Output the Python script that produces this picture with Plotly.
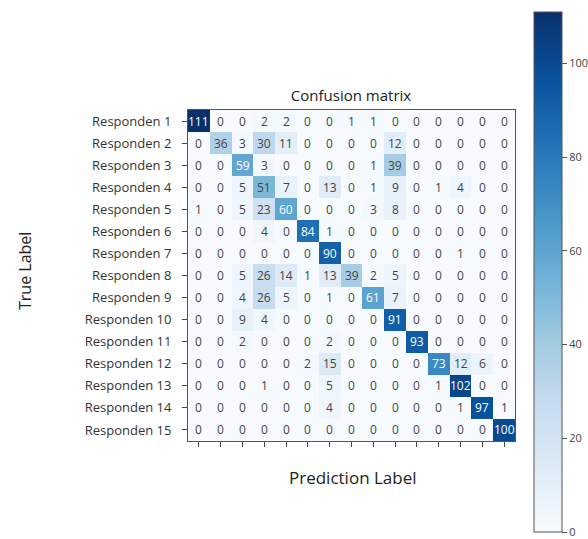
import plotly.graph_objects as go

labels = [f"Responden {i}" for i in range(1, 16)]
matrix = [
    [111, 0, 0, 2, 2, 0, 0, 1, 1, 0, 0, 0, 0, 0, 0],
    [0, 36, 3, 30, 11, 0, 0, 0, 0, 12, 0, 0, 0, 0, 0],
    [0, 0, 59, 3, 0, 0, 0, 0, 1, 39, 0, 0, 0, 0, 0],
    [0, 0, 5, 51, 7, 0, 13, 0, 1, 9, 0, 1, 4, 0, 0],
    [1, 0, 5, 23, 60, 0, 0, 0, 3, 8, 0, 0, 0, 0, 0],
    [0, 0, 0, 4, 0, 84, 1, 0, 0, 0, 0, 0, 0, 0, 0],
    [0, 0, 0, 0, 0, 0, 90, 0, 0, 0, 0, 0, 1, 0, 0],
    [0, 0, 5, 26, 14, 1, 13, 39, 2, 5, 0, 0, 0, 0, 0],
    [0, 0, 4, 26, 5, 0, 1, 0, 61, 7, 0, 0, 0, 0, 0],
    [0, 0, 9, 4, 0, 0, 0, 0, 0, 91, 0, 0, 0, 0, 0],
    [0, 0, 2, 0, 0, 0, 2, 0, 0, 0, 93, 0, 0, 0, 0],
    [0, 0, 0, 0, 0, 2, 15, 0, 0, 0, 0, 73, 12, 6, 0],
    [0, 0, 0, 1, 0, 0, 5, 0, 0, 0, 0, 1, 102, 0, 0],
    [0, 0, 0, 0, 0, 0, 4, 0, 0, 0, 0, 0, 1, 97, 1],
    [0, 0, 0, 0, 0, 0, 0, 0, 0, 0, 0, 0, 0, 0, 100],
]
cbar_ticks = [0, 20, 40, 60, 80, 100]

n = len(labels)
xs = list(range(n))
zmax = max(max(r) for r in matrix)
thresh = zmax / 2

W, H = 588, 539
L, R, T, B = 188, 515, 110, 441
pw, ph = R - L, B - T

def px_x(x):
    return (x - L) / pw

def px_y(y):
    return 1 - (y - T) / ph

cb_top, cb_bot = 12, 532

fig = go.Figure(go.Heatmap(
    z=matrix, x=xs, y=list(range(n)),
    colorscale="Blues", zmin=0, zmax=zmax,
    colorbar=dict(
        x=px_x(534), xanchor="left", y=px_y((cb_top + cb_bot) / 2), yanchor="middle",
        len=(cb_bot - cb_top) / ph, lenmode="fraction", thickness=28,
        xpad=0, ypad=0, outlinewidth=1, outlinecolor="#555",
        tickvals=cbar_ticks, ticks="outside", ticklen=5, tickcolor="#555",
        tickfont=dict(size=11, color="#444", family="Open Sans"),
    ),
    hoverinfo="skip",
))

annotations = []
for i, row in enumerate(matrix):
    for j, v in enumerate(row):
        annotations.append(dict(
            x=j, y=i, text=str(v), showarrow=False,
            font=dict(size=12, family="Open Sans",
                      color="white" if v > thresh else "#444"),
        ))
annotations.append(dict(text="Prediction Label", x=px_x(353), y=px_y(477),
                        xref="paper", yref="paper", xanchor="center", yanchor="middle",
                        showarrow=False, font=dict(size=17, family="Open Sans", color="#222")))
annotations.append(dict(text="True Label", x=px_x(25), y=px_y(271),
                        xref="paper", yref="paper", xanchor="center", yanchor="middle",
                        showarrow=False, textangle=-90,
                        font=dict(size=16, family="Open Sans", color="#222")))

fig.update_layout(
    width=W, height=H,
    margin=dict(l=L, r=W - R, t=T, b=H - B, autoexpand=False),
    paper_bgcolor="white", plot_bgcolor="white",
    title=dict(text="Confusion matrix", x=351 / W, xanchor="center",
               y=1 - 96 / H, yanchor="middle",
               font=dict(size=15, family="Open Sans", color="#222")),
    xaxis=dict(tickvals=xs, showticklabels=False, ticks="outside", ticklen=5,
               tickcolor="#444", showgrid=False, zeroline=False,
               showline=True, linecolor="#555", mirror=True, range=[-0.5, n - 0.5]),
    yaxis=dict(tickvals=list(range(n)), ticktext=labels, ticks="outside", ticklen=5,
               tickcolor="#444", showgrid=False, zeroline=False,
               showline=True, linecolor="#555", mirror=True,
               range=[n - 0.5, -0.5], ticklabelstandoff=8,
               tickfont=dict(size=13, family="Open Sans", color="#333")),
    annotations=annotations,
)

fig.write_html("out.html", config={"displayModeBar": False},
               post_script="document.body.style.margin='0';document.body.style.overflow='hidden';")
